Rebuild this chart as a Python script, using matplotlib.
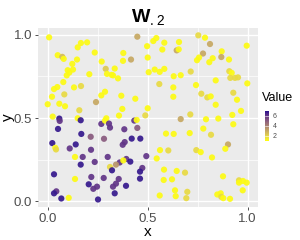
import numpy as np
import matplotlib
matplotlib.use("Agg")
import matplotlib.pyplot as plt
from matplotlib.colors import ListedColormap, Normalize, to_rgb
from matplotlib.cm import ScalarMappable

plt.rcParams['font.family'] = ['Liberation Sans', 'DejaVu Sans']
plt.rcParams['mathtext.fontset'] = 'custom'
plt.rcParams['mathtext.rm'] = 'Liberation Sans'
plt.rcParams['mathtext.bf'] = 'Liberation Sans:bold'

# ---- data ----
x = [0.007, 0.448, 0.166, 0.197, 0.15, 0.497, 0.05, 0.073, 0.08, 0.235,
     0.378, 0.4165, 0.5, 0.1465, 0.123, 0.27, 0.3765, 0.1, 0.1265, 0.29,
     0.335, 0.108, 0.095, 0.208, 0.2965, 0.32, 0.3265, 0.3515, 0.505, 0.078,
     0.048, 0.0315, 0.1315, 0.1665, 0.0215, 0.083, 0.268, 0.2865, 0.368, 0.438,
     0.2415, 0.0, 0.058, 0.0865, 0.158, 0.373, 0.5, 0.488, 0.3565, 0.025,
     0.293,
     0.058, 0.06, 0.15, 0.165, 0.268, 0.2865, 0.3065, 0.3115, 0.383, 0.433,
     0.445, 0.448, 0.0515, 0.168, 0.215, 0.2815, 0.385, 0.375, 0.42, 0.463,
     0.023, 0.14, 0.038, 0.0415, 0.11, 0.2165, 0.1365, 0.175, 0.3, 0.393,
     0.413, 0.493, 0.165, 0.235, 0.36, 0.3415, 0.3115, 0.378, 0.3215, 0.473,
     0.4615, 0.0315, 0.1365, 0.218, 0.28, 0.355, 0.4615, 0.3415, 0.3265, 0.205,
     0.2465, 0.228, 0.3915, 0.043, 0.0315, 0.335, 0.068, 0.105, 0.2515,
     0.528, 0.543, 0.583, 0.573, 0.6565, 0.645, 0.655, 0.753, 0.7865, 0.8115,
     0.7765, 0.7565, 0.7465, 0.825, 0.808, 0.87, 0.868, 0.9065, 0.995, 0.535,
     0.56, 0.583, 0.63, 0.665, 0.715, 0.908, 0.92, 0.913, 0.9365, 0.9515,
     0.84, 0.998, 0.7415, 0.558, 0.628, 0.628, 0.768, 0.798, 0.815, 0.928,
     0.9465, 0.84, 0.9665, 0.923, 0.713, 0.665, 0.7915, 0.853,
     0.928, 0.778, 0.8165, 0.5915, 0.63, 0.71, 0.9015, 0.888, 0.5615, 0.603,
     0.743, 0.765, 0.545, 0.8215, 0.5815, 0.645, 0.6865, 0.8765, 0.58, 0.6215,
     0.9565, 0.9565, 0.9765, 0.995, 0.6365, 0.698, 0.975, 0.56, 0.64, 0.693,
     0.848, 0.865, 0.868, 0.878, 0.9115]

y = [0.984, 0.988, 0.95, 0.954, 0.924, 0.931, 0.877, 0.867, 0.855, 0.893,
     0.89, 0.851, 0.863, 0.851, 0.825, 0.839, 0.843, 0.787, 0.791, 0.795,
     0.797, 0.773, 0.756, 0.763, 0.765, 0.759, 0.756, 0.738, 0.775, 0.716,
     0.686, 0.674, 0.684, 0.692, 0.628, 0.642, 0.636, 0.658, 0.634, 0.616,
     0.596, 0.583, 0.586, 0.571, 0.547, 0.555, 0.559, 0.516, 0.515, 0.509,
     0.499,
     0.497, 0.483, 0.499, 0.487, 0.465, 0.485, 0.467, 0.443, 0.433, 0.485,
     0.489, 0.441, 0.435, 0.405, 0.388, 0.376, 0.356, 0.34, 0.377, 0.377,
     0.35, 0.342, 0.322, 0.312, 0.318, 0.31, 0.267, 0.267, 0.267, 0.255,
     0.239, 0.272, 0.221, 0.237, 0.234, 0.221, 0.207, 0.246, 0.187, 0.201,
     0.179, 0.163, 0.135, 0.147, 0.141, 0.135, 0.137, 0.107, 0.089, 0.103,
     0.089, 0.076, 0.094, 0.061, 0.049, 0.049, 0.018, 0.022, 0.012,
     0.962, 0.98, 0.952, 0.911, 0.956, 0.906, 0.912, 0.996, 0.982, 0.944,
     0.887, 0.863, 0.847, 0.859, 0.835, 0.9, 0.866, 0.851, 0.934, 0.791,
     0.777, 0.795, 0.751, 0.757, 0.779, 0.781, 0.771, 0.741, 0.741, 0.744,
     0.726, 0.708, 0.698, 0.704, 0.684, 0.628, 0.646, 0.624, 0.63, 0.652,
     0.61, 0.58, 0.543, 0.519, 0.522, 0.494, 0.493, 0.497,
     0.463, 0.437, 0.4, 0.407, 0.405, 0.41, 0.342, 0.316, 0.308, 0.306,
     0.308, 0.296, 0.258, 0.264, 0.191, 0.183, 0.173, 0.151, 0.129, 0.133,
     0.127, 0.113, 0.123, 0.113, 0.067, 0.058, 0.067, 0.036, 0.032, 0.02,
     0.042, 0.049, 0.028, 0.02, 0.016]

value = [1.0, 3.0, 1.0, 1.0, 1.0, 1.0, 1.0, 2.5, 1.0, 1.0,
         1.0, 3.0, 1.0, 1.0, 1.0, 1.0, 1.0, 1.0, 1.0, 2.2,
         1.0, 1.0, 1.0, 1.0, 1.0, 1.0, 1.0, 1.0, 1.0, 1.0,
         1.0, 1.0, 1.0, 1.8, 1.0, 1.8, 1.0, 1.0, 1.0, 1.0,
         3.0, 1.0, 1.0, 1.0, 1.8, 1.0, 1.0, 1.8, 1.0, 1.0,
         1.0,
         6.8, 6.0, 1.0, 6.8, 6.0, 1.0, 6.0, 6.0, 6.0, 6.0,
         1.0, 5.0, 6.8, 6.8, 5.0, 5.0, 6.0, 6.0, 6.8, 6.8,
         6.8, 6.8, 1.0, 1.8, 6.0, 6.0, 1.0, 6.0, 6.0, 6.0,
         6.8, 6.0, 6.8, 6.0, 6.0, 3.5, 1.8, 1.0, 6.8, 6.0,
         6.8, 6.8, 1.0, 6.0, 6.0, 6.0, 6.8, 6.0, 6.0, 6.8,
         6.0, 6.0, 6.8, 6.0, 6.8, 6.8, 6.8, 1.0, 6.8,
         1.0, 1.0, 1.0, 1.0, 1.0, 3.0, 1.0, 1.8, 1.0, 3.0,
         3.0, 1.0, 1.0, 1.0, 1.0, 1.0, 3.0, 1.0, 1.0, 1.0,
         1.0, 1.0, 1.0, 1.0, 1.8, 1.8, 1.0, 1.8, 1.8, 1.8,
         1.0, 1.0, 1.0, 1.8, 1.0, 1.0, 1.8, 1.8, 1.0, 1.8,
         1.0, 1.0, 1.0, 1.0, 1.8, 3.0, 1.0, 1.0,
         1.0, 1.0, 1.8, 1.0, 1.0, 1.0, 3.0, 1.0, 1.0, 1.8,
         1.8, 1.0, 1.0, 1.0, 1.0, 1.0, 1.8, 1.0, 1.0, 1.0,
         1.8, 1.0, 1.0, 1.0, 1.0, 1.8, 1.0, 1.0, 1.0, 1.8,
         1.0, 1.0, 1.8, 1.0, 1.0]

x_ticks = [0.0, 0.5, 1.0]
x_tick_labels = ["0.0", "0.5", "1.0"]
y_ticks = [0.0, 0.5, 1.0]
y_tick_labels = ["0.0", "0.5", "1.0"]
legend_ticks = [2, 4, 6]
value_range = (0.9, 7.0)

# ---- colour scale: interpolate in CIELAB like ggplot2 ----
def srgb_to_lab(c):
    c = np.asarray(c, float)
    lin = np.where(c <= 0.04045, c / 12.92, ((c + 0.055) / 1.055) ** 2.4)
    M = np.array([[0.4124, 0.3576, 0.1805], [0.2126, 0.7152, 0.0722], [0.0193, 0.1192, 0.9505]])
    xyz = M @ lin / np.array([0.95047, 1.0, 1.08883])
    f = np.where(xyz > 0.008856, np.cbrt(xyz), 7.787 * xyz + 16 / 116)
    return np.array([116 * f[1] - 16, 500 * (f[0] - f[1]), 200 * (f[1] - f[2])])

def lab_to_srgb(lab):
    L, a, b = lab
    fy = (L + 16) / 116
    fx = fy + a / 500
    fz = fy - b / 200
    f = np.array([fx, fy, fz])
    xyz = np.where(f ** 3 > 0.008856, f ** 3, (f - 16 / 116) / 7.787) * np.array([0.95047, 1.0, 1.08883])
    Mi = np.array([[3.2406, -1.5372, -0.4986], [-0.9689, 1.8758, 0.0415], [0.0557, -0.2040, 1.0570]])
    lin = Mi @ xyz
    lin = np.clip(lin, 0, 1)
    c = np.where(lin <= 0.0031308, 12.92 * lin, 1.055 * lin ** (1 / 2.4) - 0.055)
    return np.clip(c, 0, 1)

low_lab = srgb_to_lab(to_rgb("#FFFF00"))
high_lab = srgb_to_lab(to_rgb("#24108E"))
cmap = ListedColormap([lab_to_srgb(low_lab + t * (high_lab - low_lab)) for t in np.linspace(0, 1, 256)])
norm = Normalize(*value_range)

# ---- figure ----
fig = plt.figure(figsize=(3.0, 2.4), dpi=100)
ax = fig.add_axes([0.1257, 0.1375, 0.7333, 0.7458])
ax.set_facecolor("#EBEBEB")
for s in ax.spines.values():
    s.set_visible(False)

ax.scatter(x, y, c=value, cmap=cmap, norm=norm, s=20, linewidths=0, alpha=0.92, zorder=3)

ax.set_xlim(-0.05, 1.05)
ax.set_ylim(-0.033, 1.04)
ax.set_xticks(x_ticks)
ax.set_xticklabels(x_tick_labels)
ax.set_yticks(y_ticks)
ax.set_yticklabels(y_tick_labels)
ax.set_xticks([0.25, 0.75], minor=True)
ax.set_yticks([0.25, 0.75], minor=True)
ax.grid(which="major", color="white", linewidth=1.0, zorder=0)
ax.grid(which="minor", color="white", linewidth=0.5, zorder=0)
ax.set_axisbelow(True)
ax.tick_params(which="major", length=2.5, width=0.6, color="#333333", labelsize=9.5,
               labelcolor="#4D4D4D", pad=1.5)
ax.tick_params(which="minor", length=0)

ax.set_xlabel("x", fontsize=11, labelpad=0)
ax.set_ylabel("y", fontsize=11, labelpad=0)
ax.yaxis.set_label_coords(-0.105, 0.5)
ax.set_title(r"$\mathbf{W}_{.2}$", fontsize=14, pad=4)

# ---- legend colour bar ----
cax = fig.add_axes([0.884, 0.4125, 0.011, 0.125])
cb = fig.colorbar(ScalarMappable(norm=norm, cmap=cmap), cax=cax)
cb.outline.set_visible(False)
cb.set_ticks(legend_ticks)
cb.ax.tick_params(labelsize=5, length=0, pad=3, labelcolor="#4D4D4D")
for t in legend_ticks:
    cax.axhline(t, color="white", linewidth=0.4)
fig.text(0.873, 0.565, "Value", fontsize=9, ha="left", va="bottom")

fig.savefig("out.png", dpi=100)
